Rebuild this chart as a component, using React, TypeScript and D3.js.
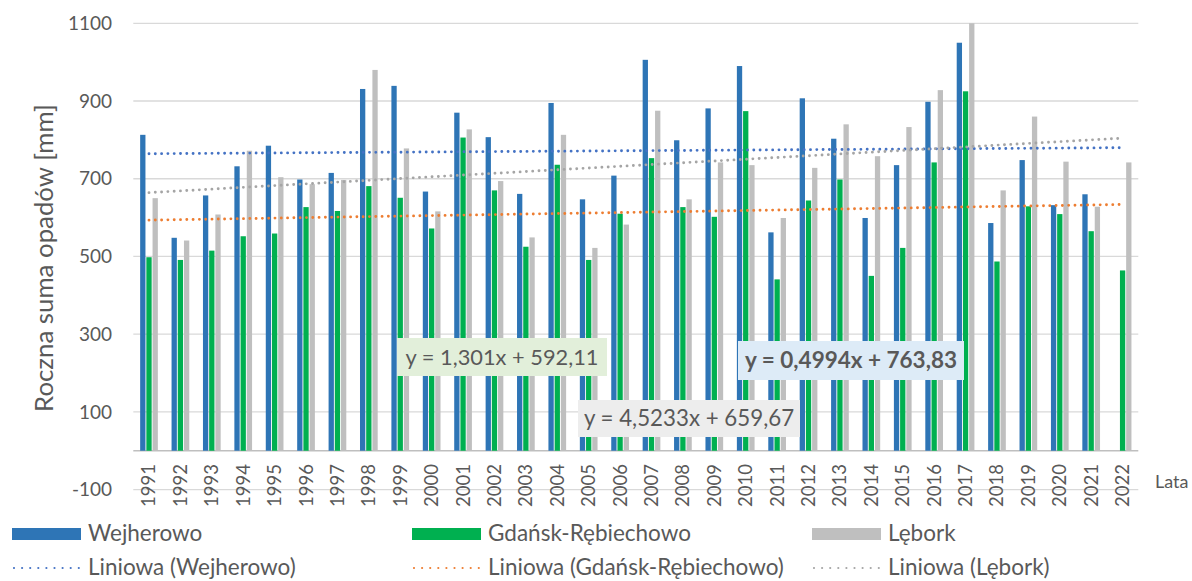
import React from "react";
import * as d3 from "d3";

const years = ["1991","1992","1993","1994","1995","1996","1997","1998","1999","2000","2001","2002","2003","2004","2005","2006","2007","2008","2009","2010","2011","2012","2013","2014","2015","2016","2017","2018","2019","2020","2021","2022"];
const wejherowo: (number | null)[] = [813,548,657,732,785,698,715,931,939,667,870,807,661,895,647,708,1006,799,881,990,562,907,803,599,735,898,1050,586,748,632,660,null];
const gdansk: (number | null)[] = [498,491,515,552,559,627,617,681,651,572,806,670,525,736,491,610,753,627,602,874,441,644,698,450,522,742,925,487,629,609,565,464];
const lebork: (number | null)[] = [650,541,608,772,704,686,697,980,778,616,827,694,549,813,522,582,875,647,742,735,599,728,840,758,833,928,1150,670,860,744,628,742];
const yTicks = [-100, 100, 300, 500, 700, 900, 1100];

const seriesNames = ["Wejherowo", "Gdańsk-Rębiechowo", "Lębork"];
const barColors = ["#2E75B6", "#00B050", "#BFBFBF"];
const trendColors = ["#4472C4", "#ED7D31", "#A5A5A5"];
const trendSlopes = [0.4994, 1.301, 4.5233];
const trendIntercepts = [763.83, 592.11, 659.67];
const trendLabels = ["y = 0,4994x + 763,83", "y = 1,301x + 592,11", "y = 4,5233x + 659,67"];

const FONT = "Lato, 'Open Sans', sans-serif";
const TXT = "#595959";

export default function App() {
  const W = 1192, H = 581;
  const left = 133.3, right = 1138.3, top = 23.3, bottom = 489.6;
  const x = d3.scaleBand<string>().domain(years).range([left, right]).padding(0);
  const y = d3.scaleLinear().domain([-100, 1100]).range([bottom, top]);
  const xi = d3.scaleLinear().domain([1, years.length]).range([x(years[0])! + x.bandwidth() / 2, x(years[years.length - 1])! + x.bandwidth() / 2]);
  const data = [wejherowo, gdansk, lebork];
  const pitch = 6.2, bw = 5.3;

  const trendLine = (k: number) =>
    d3.line<number>().x((i) => xi(i)).y((i) => y(trendIntercepts[k] + trendSlopes[k] * i))([1, years.length])!;

  const labelBoxes = [
    { k: 0, x: 738, y: 341, w: 226, h: 39, fill: "#DDEBF7", bold: true, fs: 22.5 },
    { k: 1, x: 397, y: 338, w: 210, h: 38, fill: "#E2EFDA", bold: false, fs: 21.8 },
    { k: 2, x: 578, y: 400, w: 222, h: 37, fill: "#EDEDED", bold: false, fs: 22.3 },
  ];

  const legendX = [12, 412, 812];

  return (
    <svg width={W} height={H} style={{ position: "absolute", left: 0, top: 0, background: "#fff" }} fontFamily={FONT}>
      <defs>
        <clipPath id="plot">
          <rect x={left} y={top} width={right - left} height={bottom - top} />
        </clipPath>
      </defs>
      {yTicks.map((t) => (
        <g key={t}>
          <line x1={left} x2={right} y1={y(t)} y2={y(t)} stroke="#D9D9D9" strokeWidth={1.3} />
          <text x={112} y={y(t)} dy="0.35em" textAnchor="end" fontSize={19} fill={TXT}>{t}</text>
        </g>
      ))}
      <line x1={left} x2={right} y1={y(0)} y2={y(0)} stroke="#BFBFBF" strokeWidth={1.3} />
      <g clipPath="url(#plot)">
        {data.map((s, k) =>
          s.map((v, i) =>
            v == null ? null : (
              <rect
                key={k + "-" + i}
                x={x(years[i])! + x.bandwidth() / 2 + (k - 1) * pitch - bw / 2}
                y={y(v)}
                width={bw}
                height={y(0) - y(v)}
                fill={barColors[k]}
              />
            )
          )
        )}
        {[0, 1, 2].map((k) => (
          <path key={k} d={trendLine(k)} fill="none" stroke={trendColors[k]} strokeWidth={2.9} strokeDasharray="0 6.3" strokeLinecap="round" />
        ))}
      </g>
      {years.map((yr) => (
        <text key={yr} transform={`translate(${x(yr)! + x.bandwidth() / 2},464) rotate(-90)`} dy="0.35em" textAnchor="end" fontSize={18.5} fill={TXT}>{yr}</text>
      ))}
      <text x={1155} y={482} dy="0.35em" fontSize={18} fill={TXT}>Lata</text>
      <text transform={`translate(44,258) rotate(-90)`} dy="0.35em" textAnchor="middle" fontSize={25.8} fill={TXT}>Roczna suma opadów [mm]</text>
      {labelBoxes.map((b) => (
        <g key={b.k}>
          <rect x={b.x} y={b.y} width={b.w} height={b.h} fill={b.fill} />
          <text x={b.x + b.w / 2} y={b.y + b.h / 2} dy="0.35em" textAnchor="middle" fontSize={b.fs} fontWeight={b.bold ? 700 : 400} fill={TXT}>{trendLabels[b.k]}</text>
        </g>
      ))}
      {seriesNames.map((n, k) => (
        <g key={n}>
          <rect x={legendX[k]} y={528} width={69} height={12} fill={barColors[k]} />
          <text x={legendX[k] + 76} y={533} dy="0.35em" fontSize={22.5} fill={TXT}>{n}</text>
          <line x1={legendX[k] + 2} x2={legendX[k] + 67} y1={568} y2={568} stroke={trendColors[k]} strokeWidth={2.2} strokeDasharray="0 8.1" strokeLinecap="round" />
          <text x={legendX[k] + 76} y={567} dy="0.35em" fontSize={22.5} fill={TXT}>{`Liniowa (${n})`}</text>
        </g>
      ))}
    </svg>
  );
}
